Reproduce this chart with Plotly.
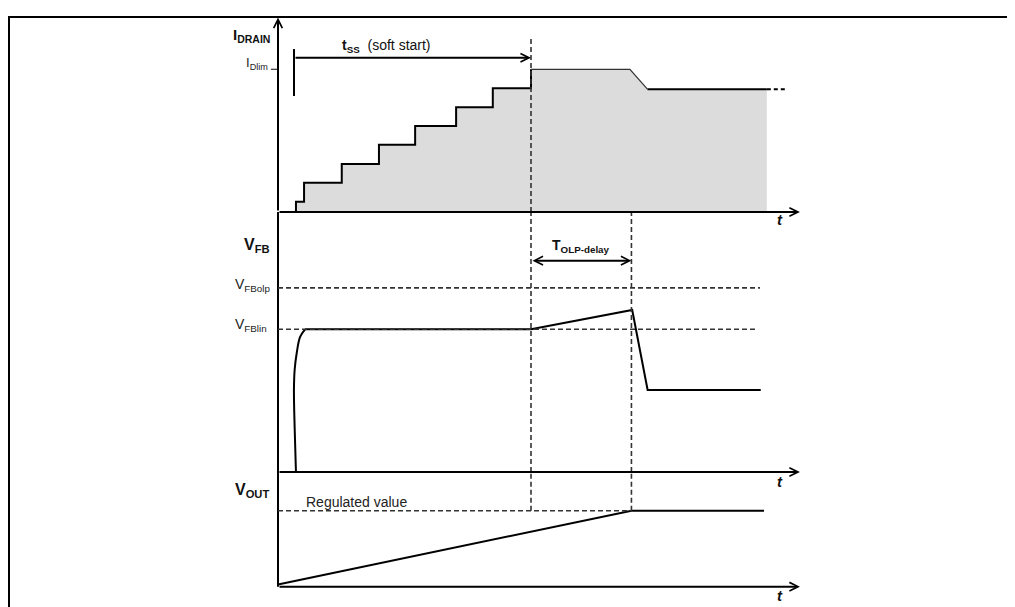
import plotly.graph_objects as go

# ---------------- data (time in arbitrary units, soft-start ends at t = 10) ----------------
step_times = [0.71, 1.03, 2.52, 3.99, 5.42, 7.04, 8.49, 10.0]
step_levels = [0.072, 0.205, 0.336, 0.472, 0.603, 0.734, 0.867, 1.0]
t_ss = 10.0
t_olp_end = 13.97
i_dlim = 1.0
id_fold_start = 13.91
id_fold_end = 14.61
id_fold_level = 0.86
id_drawn_end = 19.32
id_dash_end = 20.12
t_axis_end = 20.63

vfb_rise_t = [0.71, 0.66, 0.63, 0.66, 0.74, 0.87, 1.07]
vfb_rise_v = [0.0, 0.30, 0.575, 0.72, 0.834, 0.946, 1.0]
vfb_lin = 1.0
vfb_olp = 1.29
vfb_peak = 1.135
vfb_after = 0.575
vfb_peak_t = 14.0
vfb_drop_end_t = 14.61
vfb_end_t = 19.08
vfb_olp_line_end = 19.05
vfb_lin_line_end = 18.97

vout_start = 0.03
vout_reg = 1.0
vout_end_t = 19.21

# ---------------- layout constants ----------------
PAGE_OFF = 8                      # default body margin of the html page
W, H = 1015 - PAGE_OFF, 607 - PAGE_OFF
PX_PER_T = 25.3
ORIGIN_PX = 278 - PAGE_OFF
T0 = -ORIGIN_PX / PX_PER_T
T1 = (W - ORIGIN_PX) / PX_PER_T

B1 = 212 - PAGE_OFF     # panel 1 baseline (px in figure)
B2 = 472 - PAGE_OFF     # panel 2 baseline
B3 = 586.7 - PAGE_OFF   # panel 3 baseline
S12 = 142.7             # px per unit, panels 1 & 2
S3 = 76.0               # px per unit, panel 3

P1_RANGE = [0, B1 / S12]
P2_RANGE = [0, (B2 - B1) / S12]
P3_RANGE = [-(H - B3) / S3, (B3 - B2) / S3]
P1_DOM = [1 - B1 / H, 1.0]
P2_DOM = [1 - B2 / H, 1 - B1 / H]
P3_DOM = [0.0, 1 - B2 / H]

FONT = "Liberation Sans, Arial, sans-serif"
BLACK = "#000000"
DASHC = "#333333"
DASH = "5px,3px"

fig = go.Figure()

# ---------------- I_DRAIN panel ----------------
step_x, step_y = [step_times[0]], [0.0]
prev_level = 0.0
for k, (t, lv) in enumerate(zip(step_times, step_levels)):
    if k > 0:
        step_x.append(t)
        step_y.append(prev_level)
    step_x.append(t)
    step_y.append(lv)
    prev_level = lv

fill_x = step_x + [id_fold_start, id_fold_end, id_drawn_end]
fill_y = step_y + [i_dlim, id_fold_level, id_fold_level]
fig.add_trace(go.Scatter(x=fill_x, y=fill_y, mode="lines", fill="tozeroy",
                         fillcolor="#dcdcdc", line=dict(width=0), yaxis="y",
                         hoverinfo="skip"))
fig.add_trace(go.Scatter(x=step_x, y=step_y, mode="lines",
                         line=dict(color=BLACK, width=2), yaxis="y", hoverinfo="skip"))
fig.add_trace(go.Scatter(x=[t_ss, id_fold_start, id_fold_end],
                         y=[i_dlim, i_dlim, id_fold_level], mode="lines",
                         line=dict(color="#333333", width=1.2), yaxis="y", hoverinfo="skip"))
fig.add_trace(go.Scatter(x=[id_fold_end, id_drawn_end],
                         y=[id_fold_level, id_fold_level], mode="lines",
                         line=dict(color=BLACK, width=2), yaxis="y", hoverinfo="skip"))
fig.add_trace(go.Scatter(x=[id_drawn_end, id_dash_end],
                         y=[id_fold_level, id_fold_level], mode="lines",
                         line=dict(color=BLACK, width=2, dash="4px,3px"), yaxis="y",
                         hoverinfo="skip"))

# ---------------- V_FB panel ----------------
fig.add_trace(go.Scatter(x=vfb_rise_t, y=vfb_rise_v, mode="lines",
                         line=dict(color=BLACK, width=2, shape="spline", smoothing=1.0),
                         yaxis="y2", hoverinfo="skip"))
fig.add_trace(go.Scatter(x=[vfb_rise_t[-1], t_ss, vfb_peak_t, vfb_drop_end_t, vfb_end_t],
                         y=[vfb_lin, vfb_lin, vfb_peak, vfb_after, vfb_after],
                         mode="lines", line=dict(color=BLACK, width=2),
                         yaxis="y2", hoverinfo="skip"))

# ---------------- V_OUT panel ----------------
fig.add_trace(go.Scatter(x=[0, t_olp_end, vout_end_t], y=[vout_start, vout_reg, vout_reg],
                         mode="lines", line=dict(color=BLACK, width=2),
                         yaxis="y3", hoverinfo="skip"))

shapes = []


def seg(x0, y0, x1, y1, yref, color=BLACK, width=2, dash=None):
    d = dict(type="line", xref="x", yref=yref, x0=x0, y0=y0, x1=x1, y1=y1,
             line=dict(color=color, width=width))
    if dash:
        d["line"]["dash"] = dash
    shapes.append(d)


# vertical axis segments (panel 2 & 3)
seg(0, P2_RANGE[0], 0, P2_RANGE[1], "y2")
seg(0, 0, 0, P3_RANGE[1], "y3")
# I_Dlim tick
seg(-0.28, i_dlim, 0, i_dlim, "y", color="#333333", width=1.2)
# soft start start tick
seg(0.632, 0.813, 0.632, 1.142, "y", width=2)
# dashed verticals
seg(t_ss, 0, t_ss, 1.233, "y", color=DASHC, width=1.6, dash=DASH)
seg(t_ss, P2_RANGE[0], t_ss, P2_RANGE[1], "y2", color=DASHC, width=1.6, dash=DASH)
seg(t_ss, vout_reg, t_ss, P3_RANGE[1], "y3", color=DASHC, width=1.6, dash=DASH)
seg(t_olp_end, P2_RANGE[0], t_olp_end, P2_RANGE[1], "y2", color=DASHC, width=1.6, dash=DASH)
seg(t_olp_end, vout_reg, t_olp_end, P3_RANGE[1], "y3", color=DASHC, width=1.6, dash=DASH)
# dashed thresholds
seg(0, vfb_olp, vfb_olp_line_end, vfb_olp, "y2", color=DASHC, width=1.6, dash=DASH)
seg(0, vfb_lin, vfb_lin_line_end, vfb_lin, "y2", color=DASHC, width=1.6, dash=DASH)
seg(0, vout_reg, t_olp_end, vout_reg, "y3", color=DASHC, width=1.6, dash=DASH)

# outer frame
shapes.append(dict(type="rect", xref="paper", yref="paper",
                   x0=(9 - PAGE_OFF) / W, x1=(1009 - PAGE_OFF) / W,
                   y0=-0.05, y1=1 - (17 - PAGE_OFF) / H,
                   line=dict(color=BLACK, width=2), fillcolor="rgba(0,0,0,0)"))

annotations = []


def arrow(x0, y0, x1, y1, yref, both=False):
    annotations.append(dict(x=x1, y=y1, ax=x0, ay=y0, xref="x", yref=yref,
                            axref="x", ayref=yref, text="", showarrow=True,
                            arrowhead=5, arrowsize=0.85, arrowwidth=2,
                            arrowcolor=BLACK, standoff=0, startstandoff=0,
                            startarrowhead=5, startarrowsize=0.85,
                            arrowside="end+start" if both else "end"))


# axes arrows
arrow(0, 0, 0, 1.363, "y")
arrow(0, 0, t_axis_end, 0, "y")
arrow(0, 0, t_axis_end, 0, "y2")
arrow(0, 0, t_axis_end, 0, "y3")
# t_ss arrow
arrow(0.632, 1.081, t_ss, 1.081, "y")
# T_OLP-delay arrow
arrow(t_ss, 1.481, t_olp_end, 1.481, "y2", both=True)


def label(text, x, y, yref, size=14, xanchor="right", color="#111111"):
    annotations.append(dict(text=text, x=x, y=y, xref="x", yref=yref,
                            showarrow=False, xanchor=xanchor, yanchor="middle",
                            font=dict(family=FONT, size=size, color=color)))


label("<b>I<sub>DRAIN</sub></b>", -0.24, 1.24, "y", size=15)
label("I<sub>Dlim</sub>", -0.32, 1.04, "y", size=13, color="#222222")
label("<b>t<sub>SS</sub></b>  (soft start)", 2.45, 1.165, "y", size=14, xanchor="left")
label("<b><i>t</i></b>", 19.84, 1.766, "y2", size=15, xanchor="center")

label("<b>V<sub>FB</sub></b>", -0.24, 1.59, "y2", size=16)
label("V<sub>FBolp</sub>", -0.24, 1.31, "y2", size=14, color="#222222")
label("V<sub>FBlin</sub>", -0.36, 1.03, "y2", size=14, color="#222222")
label("<b>T<sub>OLP-delay</sub></b>", (t_ss + t_olp_end) / 2, 1.585, "y2", size=14,
      xanchor="center")
label("<b><i>t</i></b>", 19.84, 1.39, "y3", size=15, xanchor="center")

label("<b>V<sub>OUT</sub></b>", -0.28, 1.27, "y3", size=16)
label("Regulated value", 1.03, 1.12, "y3", size=14, xanchor="left", color="#222222")
label("<b><i>t</i></b>", 19.84, -0.12, "y3", size=15, xanchor="center")

fig.update_layout(
    width=W, height=H,
    margin=dict(l=0, r=0, t=0, b=0),
    paper_bgcolor="white", plot_bgcolor="white",
    showlegend=False,
    xaxis=dict(range=[T0, T1], visible=False, fixedrange=True),
    yaxis=dict(domain=P1_DOM, range=P1_RANGE, visible=False, anchor="x"),
    yaxis2=dict(domain=P2_DOM, range=P2_RANGE, visible=False, anchor="x"),
    yaxis3=dict(domain=P3_DOM, range=P3_RANGE, visible=False, anchor="x"),
    shapes=shapes,
    annotations=annotations,
)

fig.write_html("out.html")
